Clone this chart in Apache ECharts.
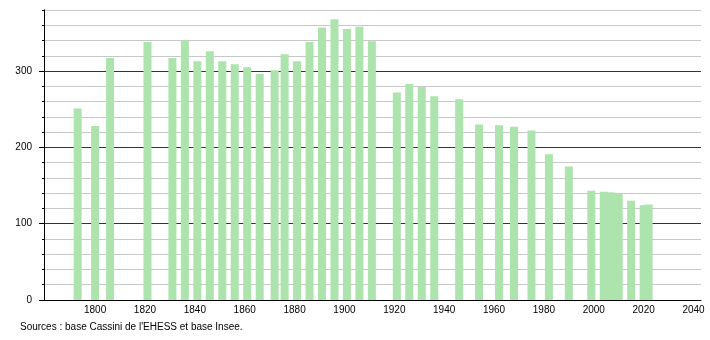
<!DOCTYPE html>
<html><head><meta charset="utf-8">
<script src="https://cdn.jsdelivr.net/npm/echarts@6/dist/echarts.min.js"></script>
<style>html,body{margin:0;padding:0;background:#fff}#c{width:710px;height:340px}</style>
</head><body><div id="c"></div>
<script>
const years = [1793,1800,1806,1821,1831,1836,1841,1846,1851,1856,1861,1866,1872,1876,1881,1886,1891,1896,1901,1906,1911,1921,1926,1931,1936,1946,1954,1962,1968,1975,1982,1990,1999,2004,2006,2007,2008,2009,2010,2015,2020,2021,2022];
const population = [251,228,317,338,317,340,313,326,313,309,305,296,301,322,313,338,357,368,355,358,339,272,283,279,267,263,230,229,227,222,191,175,143,142,141,141,140,140,140,130,124,124,125];
const xTickLabels = [1800,1820,1840,1860,1880,1900,1920,1940,1960,1980,2000,2020,2040];
const yTickLabels = [0,100,200,300];
const source = "Sources : base Cassini de l'EHESS et base Insee.";

const font = 'Liberation Sans, Arial, sans-serif';
const chart = echarts.init(document.getElementById('c'), null, {renderer:'canvas'});
chart.setOption({
  animation:false,
  backgroundColor:'#fff',
  grid:{left:44, right:9, top:10, bottom:40, containLabel:false},
  graphic:[{type:'text', left:20, top:322, style:{text:source, font:'10px '+font, fill:'#000'}}],
  xAxis:{type:'value', min:1779.5, max:2043,
    axisLine:{show:true, lineStyle:{color:'#000', width:1}},
    axisTick:{show:false},
    splitLine:{show:false},
    axisLabel:{customValues:xTickLabels, formatter:v=>String(v), color:'#000', fontSize:10, fontFamily:font, margin:5}
  },
  yAxis:[{type:'value', min:0, max:380, interval:20, position:'left',
    axisLine:{show:true, lineStyle:{color:'#000'}},
    axisTick:{show:true, length:2, lineStyle:{color:'#000'}},
    axisLabel:{show:false},
    splitLine:{show:true, lineStyle:{color:['#333','#c8c8c8','#c8c8c8','#c8c8c8','#c8c8c8'], width:1}}
  },{type:'value', min:0, max:380, position:'left',
    axisLine:{show:true, lineStyle:{color:'#000'}},
    axisTick:{show:true, length:5, customValues:yTickLabels, lineStyle:{color:'#000'}},
    axisLabel:{customValues:yTickLabels, formatter:v=>String(v), color:'#000', fontSize:10, fontFamily:font, margin:12},
    splitLine:{show:false}
  }],
  series:[{type:'bar', yAxisIndex:0, barWidth:8,
    itemStyle:{color:'#ade3ad'},
    data:years.map((y,i)=>[y,population[i]])
  }]
});
</script></body></html>
